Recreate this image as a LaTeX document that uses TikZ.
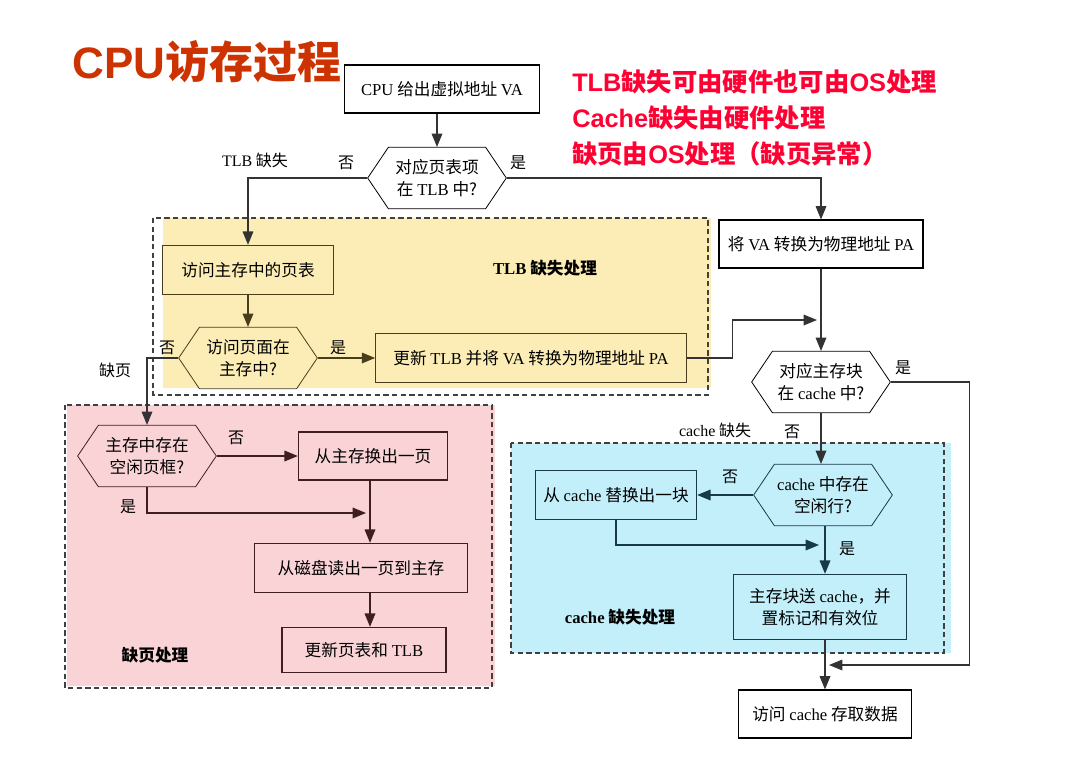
\documentclass[tikz,border=0pt]{standalone}
\usepackage{fontspec}
\setmainfont{Noto Sans CJK SC}
\newfontfamily\enfont{Liberation Serif}
\newfontfamily\headfont{Liberation Sans}
\newcommand\latn[1]{{\enfont #1}}
\usetikzlibrary{shapes.symbols,arrows.meta}

\definecolor{titlered}{HTML}{CC3300}
\definecolor{notered}{HTML}{FF0033}
\definecolor{tlbfill}{HTML}{FBEDB5}
\definecolor{pagefill}{HTML}{F9D3D6}
\definecolor{cachefill}{HTML}{C3EFFB}
\definecolor{tlbline}{HTML}{4A3D1C}
\definecolor{pageline}{HTML}{3F1E22}
\definecolor{cacheline}{HTML}{17394A}

\tikzset{
  box/.style={draw, line width=0.8pt, inner sep=2pt,
    font=\fontsize{12.5}{16}\selectfont, align=center},
  hexa/.style={draw, line width=0.6pt, shape=signal, signal from=nowhere,
    signal to=east and west, signal pointer angle=112, align=center,
    minimum width=104pt, minimum height=46pt, inner sep=1pt,
    font=\fontsize{12.5}{16.5}\selectfont},
  flow/.style={-{Triangle[length=10pt,width=8pt]}, line width=0.9pt},
  lbl/.style={font=\fontsize{12}{14}\selectfont},
  area/.style={line width=1pt, dash pattern=on 4pt off 2.5pt, draw=black!75},
  areaname/.style={font=\bfseries\fontsize{12.5}{14}\selectfont}
}

\begin{document}
\begin{tikzpicture}[x=0.75pt,y=-0.75pt]
  \useasboundingbox (0,0) rectangle (1072,764);

  % title and notes
  \node[font=\headfont\bfseries\fontsize{33}{36}\selectfont, text=titlered] (title) at (207,62)
    {CPU\fontspec{Noto Sans CJK SC}访存过程};
  \node[anchor=west, font=\bfseries\fontsize{19}{22}\selectfont, text=notered, align=left,
    inner sep=0pt] (notes) at (572,118)
    {{\headfont TLB}缺失可由硬件也可由{\headfont OS}处理\\[5pt]
     {\headfont Cache}缺失由硬件处理\\[5pt]
     缺页由{\headfont OS}处理（缺页异常）};

  % shaded areas
  \fill[tlbfill] (163,218) rectangle (711,388);
  \draw[area] (153,218) rectangle (708,395);
  \fill[pagefill] (67,405) rectangle (495,686);
  \draw[area] (65,405) rectangle (492,688);
  \fill[cachefill] (511,443) rectangle (951,653);
  \draw[area] (511,443) rectangle (944,653);

  \node[areaname] (tlbname) at (545,268) {\latn{TLB} 缺失处理};
  \node[areaname] (pagename) at (155,655) {缺页处理};
  \node[areaname] (cachename) at (620,617) {\latn{cache} 缺失处理};

  % main path
  \node[box, minimum width=146pt, minimum height=36pt] (cpu) at (442,89)
    {\latn{CPU} 给出虚拟地址 \latn{VA}};
  \node[hexa] (q1) at (437,178) {对应页表项\\在 \latn{TLB} 中?};
  \node[box, minimum width=153pt, minimum height=36pt] (trans) at (821,244)
    {将 \latn{VA} 转换为物理地址 \latn{PA}};
  \node[hexa] (q4) at (821,382) {对应主存块\\在 \latn{cache} 中?};
  \node[box, minimum width=130pt, minimum height=36pt] (use) at (825,714)
    {访问 \latn{cache} 存取数据};

  % TLB miss
  \node[box, draw=tlbline, minimum width=128pt, minimum height=37pt] (walk) at (248,270)
    {访问主存中的页表};
  \node[hexa, draw=tlbline] (q2) at (248,358) {访问页面在\\主存中?};
  \node[box, draw=tlbline, minimum width=233pt, minimum height=37pt] (upd) at (531,358)
    {更新 \latn{TLB} 并将 \latn{VA} 转换为物理地址 \latn{PA}};

  % page fault
  \node[hexa, draw=pageline] (q3) at (147,456) {主存中存在\\空闲页框?};
  \node[box, draw=pageline, minimum width=112pt, minimum height=36pt] (swap) at (373,456)
    {从主存换出一页};
  \node[box, draw=pageline, minimum width=160pt, minimum height=37pt] (disk) at (361,568)
    {从磁盘读出一页到主存};
  \node[box, draw=pageline, minimum width=123pt, minimum height=34pt] (tbl) at (364,650)
    {更新页表和 \latn{TLB}};

  % cache miss
  \node[hexa, draw=cacheline] (q5) at (823,495) {\latn{cache} 中存在\\空闲行?};
  \node[box, draw=cacheline, minimum width=121pt, minimum height=37pt] (repl) at (616,495)
    {从 \latn{cache} 替换出一块};
  \node[box, draw=cacheline, minimum width=130pt, minimum height=49pt] (fill) at (820,607)
    {主存块送 \latn{cache}，并\\置标记和有效位};

  % merge points
  \coordinate (m1) at (817,320);
  \coordinate (m2) at (366,513);
  \coordinate (m3) at (819,545);
  \coordinate (m4) at (829,665);

  % connectors
  \draw[flow, black!80] (q1.north |- cpu.south) -- (q1.north);
  \draw[flow, black!80] (q1.west) -| (walk.north);
  \draw[flow, black!80] (q1.east) -| (trans.north);
  \draw[flow, tlbline] (walk.south) -- (q2.north);
  \draw[flow, tlbline] (q2.east) -- (upd.west);
  \draw[flow, black!80] (upd.east) -- ++(46,0) |- (m1);
  \draw[flow, black!80] (trans.south) -- (q4.north);
  \draw[flow, black!80] (q2.west) -| (q3.north);
  \draw[flow, pageline] (q3.east) -- (swap.west);
  \draw[flow, pageline] (q3.south) |- (m2);
  \draw[flow, pageline] (swap.south -| 370,0) -- (370,0 |- disk.north);
  \draw[flow, pageline] (disk.south -| 370,0) -- (370,0 |- tbl.north);
  \draw[flow, black!80] (q4.south) -- (q4.south |- q5.north);
  \draw[flow, cacheline] (q5.west) -- (repl.east);
  \draw[flow, cacheline] (repl.south) |- (m3);
  \draw[flow, cacheline] (q5.south -| 825,0) -- (825,0 |- fill.north);
  \draw[flow, black!80] (fill.south -| 825,0) -- (825,0 |- use.north);
  \draw[flow, black!80] (q4.east) -- ++(79,0) |- (m4);

  % branch labels
  \node[lbl] (l1) at (346,163) {否};
  \node[lbl] (l2) at (518,163) {是};
  \node[lbl] (l3) at (255,160) {\latn{TLB} 缺失};
  \node[lbl] (l4) at (167,348) {否};
  \node[lbl] (l5) at (338,348) {是};
  \node[lbl] (l6) at (115,370) {缺页};
  \node[lbl] (l7) at (236,438) {否};
  \node[lbl] (l8) at (128,507) {是};
  \node[lbl] (l9) at (903,368) {是};
  \node[lbl] (l10) at (715,430) {\latn{cache} 缺失};
  \node[lbl] (l11) at (792,432) {否};
  \node[lbl] (l12) at (730,477) {否};
  \node[lbl] (l13) at (847,549) {是};
\end{tikzpicture}
\end{document}
